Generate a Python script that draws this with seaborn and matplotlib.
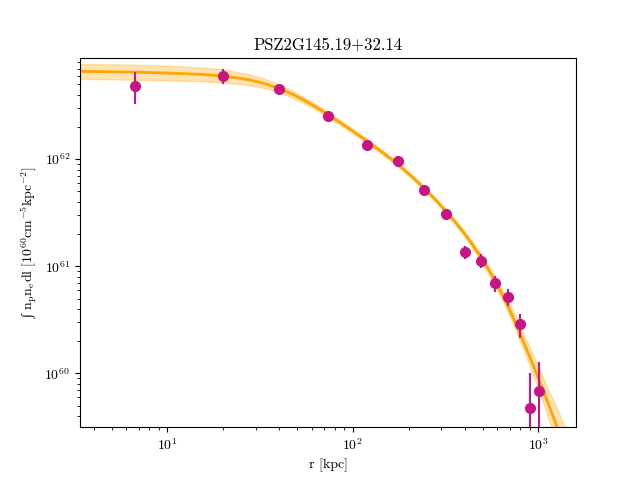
import numpy as np
import pandas as pd
import matplotlib
matplotlib.use('Agg')
import matplotlib.pyplot as plt
import seaborn as sns

# Emission measure profile of PSZ2G145.19+32.14

# measured points
r_kpc = [6.68, 19.9, 39.9, 73.3, 119.0, 175.0, 242.0, 318.6, 401.6, 491.0, 584.0, 684.0, 794.0, 899.0, 1007.0]
em = [4.84e62, 6.0e62, 4.54e62, 2.54e62, 1.36e62, 9.58e61, 5.13e61, 3.06e61,
      1.35e61, 1.13e61, 6.93e60, 5.22e60, 2.87e60, 4.71e59, 6.84e59]
em_err = [1.6e62, 0.95e62, 0.25e62, 0.1e62, 0.06e62, 0.4e61, 0.25e61, 0.35e61,
          0.18e61, 0.16e61, 1.2e60, 0.95e60, 0.75e60, 5.4e59, 5.9e59]

# best-fit model and half-width of its band in dex
r_model = [3.0, 3.376, 6.68, 10.06, 14.97, 20.42, 27.84, 33.34, 39.92, 46.33, 53.77, 62.79,
           73.33, 84.04, 96.34, 107.1, 119.0, 131.4, 145.1, 159.3, 174.8, 190.7, 208.0,
           224.0, 241.3, 276.7, 317.2, 354.7, 396.7, 443.6, 496.0, 551.1, 612.6, 680.8,
           756.3, 856.0, 969.4, 1104.5, 1258.0, 1415.7, 1593.0, 1700.0]
em_model = [6.60e62, 6.59e62, 6.475e62, 6.36e62, 6.19e62, 5.94e62, 5.49e62, 5.08e62, 4.58e62,
            4.10e62, 3.60e62, 3.085e62, 2.61e62, 2.236e62, 1.908e62, 1.680e62, 1.476e62,
            1.303e62, 1.148e62, 1.013e62, 8.90e61, 7.84e61, 6.86e61, 6.10e61, 5.38e61,
            4.23e61, 3.27e61, 2.61e61, 2.048e61, 1.572e61, 1.178e61, 8.73e60, 6.27e60,
            4.35e60, 2.91e60, 1.753e60, 1.035e60, 5.81e59, 3.20e59, 1.823e59, 1.017e59, 7.0e58]
band_dex = [0.070, 0.070, 0.070, 0.068, 0.065, 0.061, 0.051, 0.044, 0.037, 0.033, 0.029, 0.026,
            0.023, 0.0215, 0.0205, 0.020, 0.019, 0.019, 0.019, 0.019, 0.019, 0.019, 0.019,
            0.019, 0.019, 0.019, 0.0205, 0.0225, 0.025, 0.029, 0.033, 0.037, 0.045, 0.053,
            0.064, 0.078, 0.098, 0.126, 0.168, 0.206, 0.252, 0.28]

plt.rcParams['font.family'] = 'serif'
plt.rcParams['font.serif'] = ['cmr10', 'DejaVu Serif']
plt.rcParams['mathtext.fontset'] = 'cm'
plt.rcParams['axes.unicode_minus'] = False
plt.rcParams['axes.formatter.use_mathtext'] = True

model = pd.DataFrame({'r': r_model, 'em': em_model, 'w': band_dex})
model['low'] = model['em'] / 10 ** model['w']
model['high'] = model['em'] * 10 ** model['w']

fig, ax = plt.subplots(figsize=(6.4, 4.8), dpi=100)
ax.fill_between(model['r'], model['low'], model['high'], color='orange', alpha=0.3, lw=1)
sns.lineplot(data=model, x='r', y='em', ax=ax, color='orange', lw=2, sort=False)
ax.errorbar(r_kpc, em, yerr=em_err, fmt='o', color='mediumvioletred',
            ms=7, elinewidth=1.5, zorder=5)

ax.set_xscale('log')
ax.set_yscale('log')
ax.set_xlim(3.38, 1595)
ax.set_ylim(3.15e59, 8.86e62)
ax.set_title('PSZ2G145.19+32.14')
ax.set_xlabel('r [kpc]')
ax.set_ylabel('\u222b ' + r'$\mathrm{n_pn_edl}\ [10^{60}\mathrm{cm^{-5}kpc^{-2}}]$',
              family=['Liberation Serif', 'DejaVu Serif'])

plt.savefig('out.png')
